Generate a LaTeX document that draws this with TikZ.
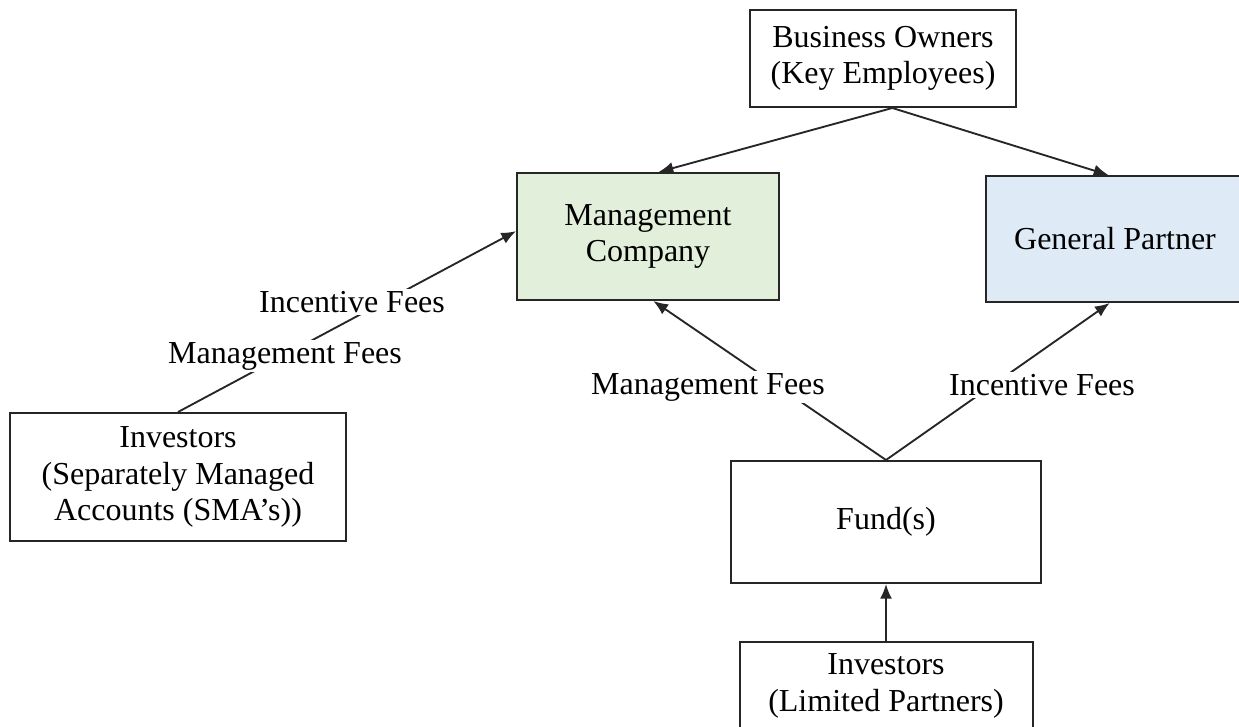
\documentclass[tikz,border=0pt]{standalone}
\usepackage{fontspec}
\setmainfont{Liberation Serif}
\usepackage{xcolor}
\usetikzlibrary{arrows.meta}

\definecolor{mcgreen}{RGB}{226,239,218}
\definecolor{gpblue}{RGB}{222,235,247}

\begin{document}
\begin{tikzpicture}[x=0.75pt,y=0.75pt,yscale=-1,xscale=1,
  box/.style={draw=black!85,line width=1.5pt,align=center,inner sep=0pt,font=\fontsize{24}{27.5}\selectfont},
  feelabel/.style={fill=white,inner sep=1.5pt,font=\fontsize{24}{27}\selectfont},
  flow/.style={draw=black!85,line width=1.4pt,-{Latex[length=11pt,width=9pt]}}]
\useasboundingbox (0,0) rectangle (1239,727);

% Boxes
\node [box,minimum width=199.5pt,minimum height=72.75pt] (owners) at (883,58.5) {Business Owners\\(Key Employees)};
\node [box,fill=mcgreen,minimum width=196.5pt,minimum height=95.25pt] (mgmt) at (648,236.5) {Management\\Company};
\node [box,fill=gpblue,minimum width=193.5pt,minimum height=94.5pt] (gp) at (1115,239) {General Partner};
\node [box,minimum width=252pt,minimum height=96pt] (sma) at (178,477) {Investors\\(Separately Managed\\Accounts (SMA's))};
\node [box,minimum width=232.5pt,minimum height=91.5pt] (fund) at (886,522) {Fund(s)};
\node [box,minimum width=219.75pt,minimum height=66pt] (lp) at (886,686) {Investors\\(Limited Partners)};

% Connectors
\draw [flow] ([xshift=7pt]owners.south) -- ([xshift=8pt]mgmt.north);
\draw [flow] ([xshift=7pt]owners.south) -- ([xshift=-5pt]gp.north);
\draw [flow] (sma.north) -- ([yshift=-4pt]mgmt.west);
\draw [flow] (fund.north) -- ([xshift=4pt]mgmt.south);
\draw [flow] (fund.north) -- ([xshift=-4pt]gp.south);
\draw [flow] (lp.north) -- (fund.south);

% Text Node
\node [feelabel] (smaincentive) at (352,302) {Incentive Fees};
\node [feelabel] (smamgmt) at (285,356) {Management Fees};
\node [feelabel] (fundmgmt) at (708,387) {Management Fees};
\node [feelabel] (fundincentive) at (1042,385) {Incentive Fees};

\end{tikzpicture}
\end{document}
